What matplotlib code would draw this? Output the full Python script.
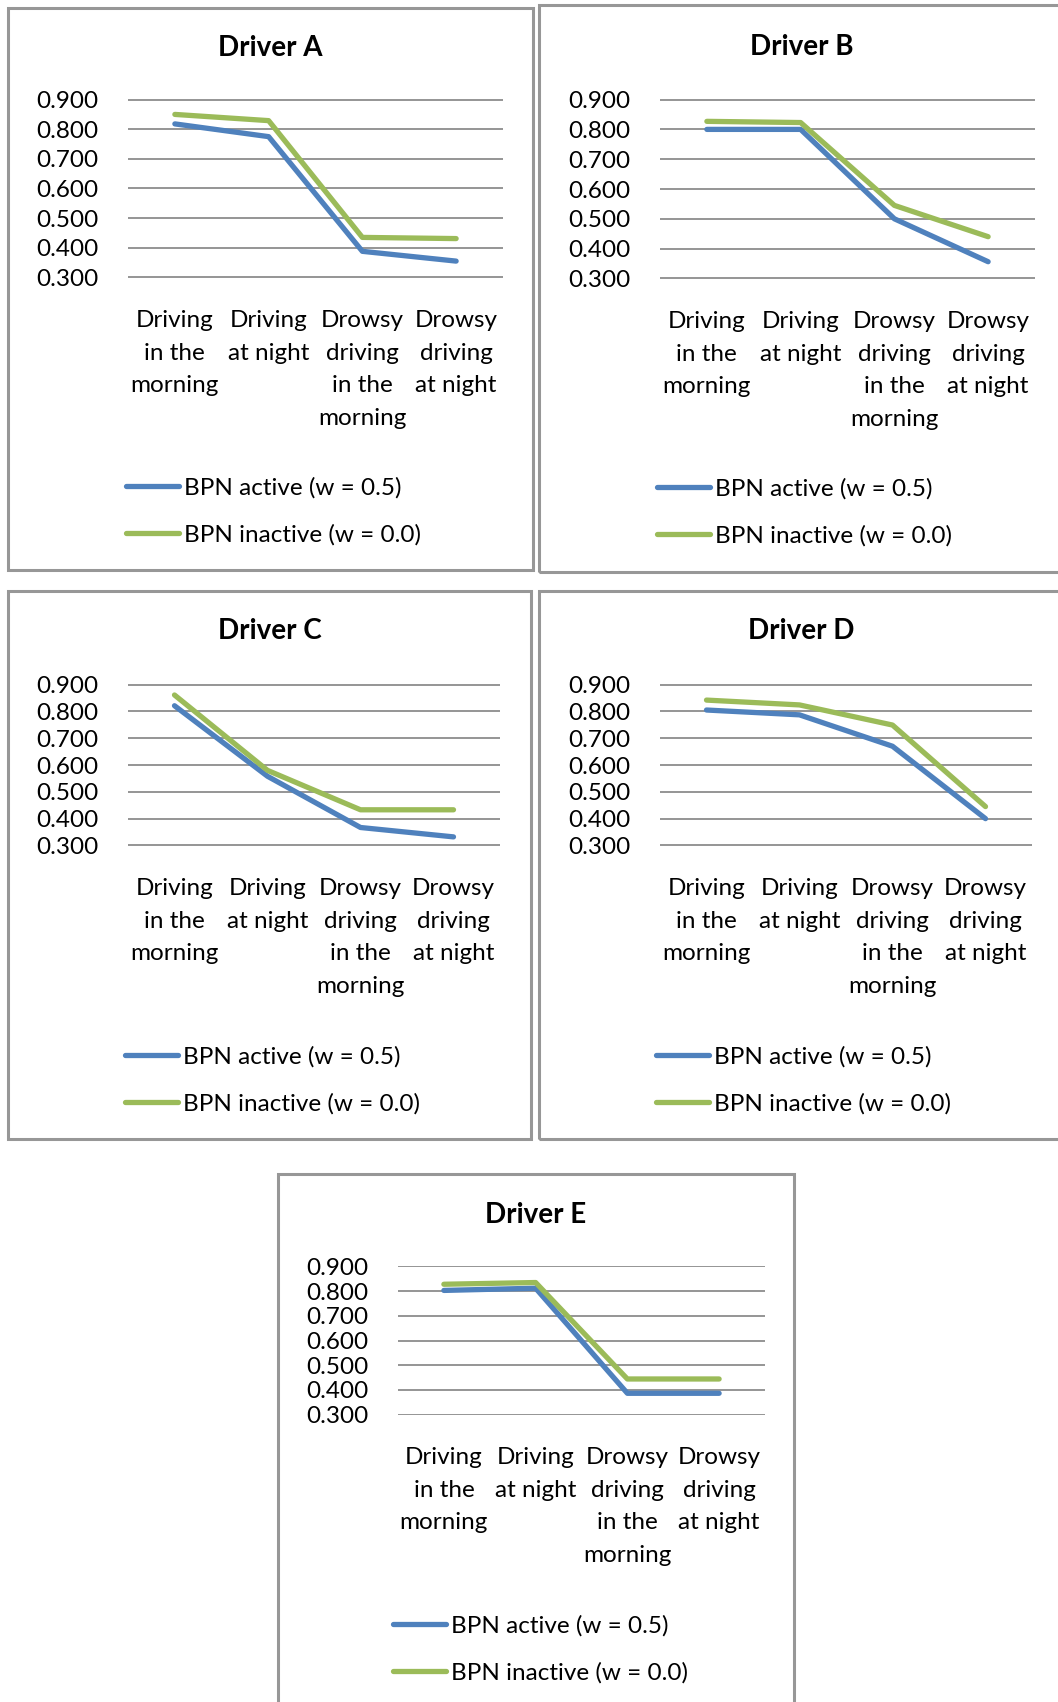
import matplotlib.pyplot as plt
from matplotlib.patches import Rectangle
import numpy as np

# category labels and series values
categories = ['Driving\nin the\nmorning', 'Driving\nat night',
              'Drowsy\ndriving\nin the\nmorning', 'Drowsy\ndriving\nat night']
drivers = ['Driver A', 'Driver B', 'Driver C', 'Driver D', 'Driver E']

active_a = [0.818, 0.775, 0.388, 0.355]
inactive_a = [0.850, 0.829, 0.435, 0.431]
active_b = [0.800, 0.800, 0.500, 0.356]
inactive_b = [0.827, 0.823, 0.545, 0.440]
active_c = [0.821, 0.558, 0.367, 0.332]
inactive_c = [0.861, 0.580, 0.433, 0.433]
active_d = [0.805, 0.787, 0.670, 0.400]
inactive_d = [0.842, 0.824, 0.749, 0.445]
active_e = [0.803, 0.812, 0.386, 0.386]
inactive_e = [0.828, 0.835, 0.444, 0.444]

series_labels = ['BPN active (w = 0.5)', 'BPN inactive (w = 0.0)']
yticks = [0.3, 0.4, 0.5, 0.6, 0.7, 0.8, 0.9]

active = [active_a, active_b, active_c, active_d, active_e]
inactive = [inactive_a, inactive_b, inactive_c, inactive_d, inactive_e]

W, H = 1058, 1702
FONT = 'Lato'
BLUE = '#4F81BD'
GREEN = '#9BBB59'
FS = 17.5

plt.rcParams['font.family'] = [FONT, 'DejaVu Sans']

# pixel layout of each chart: box, plot area, legend anchor
boxes = [(8, 8, 533, 570), (539, 5, 1064, 572), (8, 591, 531, 1139),
         (539, 591, 1064, 1139), (278, 1174, 794, 1708)]
plots = [(128, 99, 503, 278), (660, 99, 1035, 279), (128, 684, 500, 846),
         (660, 684, 1032, 846), (398, 1266, 765, 1415)]
legends = [(126, 485), (657, 486), (125, 1054), (656, 1054), (393, 1623)]
titles = [(270, 48), (802, 47), (270, 631), (801, 631), (536, 1215)]

fig = plt.figure(figsize=(W / 100, H / 100), dpi=100)

for i in range(5):
    bx0, by0, bx1, by1 = boxes[i]
    fig.patches.append(Rectangle((bx0 / W, 1 - by1 / H), (bx1 - bx0) / W, (by1 - by0) / H,
                                 transform=fig.transFigure, fill=False,
                                 edgecolor='#979797', linewidth=2.2))

    x0, y0, x1, y1 = plots[i]
    ax = fig.add_axes([x0 / W, 1 - y1 / H, (x1 - x0) / W, (y1 - y0) / H])
    x = np.arange(len(categories))
    ax.plot(x, active[i], color=BLUE, linewidth=3.8, label=series_labels[0],
            solid_capstyle='round', solid_joinstyle='round', zorder=3)
    ax.plot(x, inactive[i], color=GREEN, linewidth=3.8, label=series_labels[1],
            solid_capstyle='round', solid_joinstyle='round', zorder=3)

    ax.set_xlim(-0.5, 3.5)
    ax.set_ylim(0.298, 0.902)
    ax.set_yticks(yticks)
    ax.set_yticklabels(['%.3f' % v for v in yticks])
    ax.set_xticks(x)
    ax.set_xticklabels(categories, linespacing=1.69)
    ax.tick_params(axis='y', length=0, pad=21, labelsize=FS)
    ax.tick_params(axis='x', length=0, pad=23, labelsize=FS)
    for s in ax.spines.values():
        s.set_visible(False)
    ax.grid(axis='y', color='#8c8c8c', linewidth=1.3)
    ax.set_axisbelow(True)

    tx, ty = titles[i]
    fig.text(tx / W, 1 - ty / H, drivers[i], ha='center', va='center',
             fontsize=20, fontweight='bold')

    lx, ly = legends[i]
    ax.legend(loc='upper left', bbox_to_anchor=(lx / W, 1 - (ly - 8) / H),
              bbox_transform=fig.transFigure, frameon=False, fontsize=FS,
              handlelength=2.2, handletextpad=0.2, labelspacing=1.05,
              borderpad=0, borderaxespad=0)

fig.savefig('out.png', dpi=100)
